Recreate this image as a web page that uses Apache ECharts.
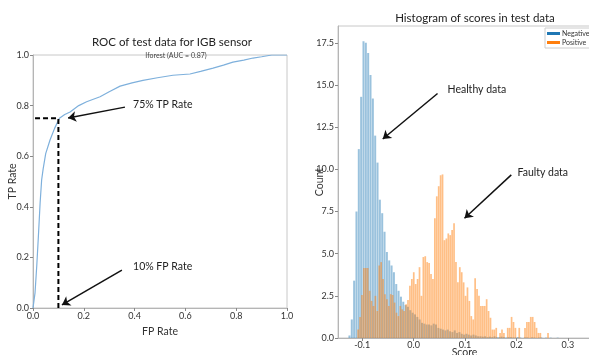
<!DOCTYPE html>
<html>
<head>
<meta charset="utf-8">
<script src="https://cdn.jsdelivr.net/npm/echarts@6/dist/echarts.min.js"></script>
<style>
  html, body { margin: 0; padding: 0; background: #fff; }
  #chart { width: 589px; height: 355px; }
</style>
</head>
<body>
<div id="chart"></div>
<script>
// ROC curve
const fpr = [0, 0.008, 0.015, 0.021, 0.028, 0.034, 0.04, 0.05, 0.067, 0.085, 0.104, 0.125, 0.146, 0.18, 0.211, 0.264, 0.3, 0.343, 0.39, 0.433, 0.49, 0.551, 0.618, 0.66, 0.709, 0.75, 0.787, 0.83, 0.866, 0.9, 0.94, 1.0]
const tpr = [0, 0.06, 0.17, 0.28, 0.415, 0.506, 0.55, 0.61, 0.664, 0.71, 0.75, 0.765, 0.775, 0.8, 0.815, 0.835, 0.855, 0.877, 0.89, 0.9, 0.91, 0.92, 0.925, 0.935, 0.948, 0.96, 0.972, 0.98, 0.988, 0.993, 1.0, 1.0]
const cutFpr = [0.008, 0.1, 0.1]
const cutTpr = [0.75, 0.75, 0]

// histogram bins
const negStart = -0.1273
const negWidth = 0.00455
const negCounts = [0.15, 1.1, 3.4, 7.5, 11.2, 14.3, 17.6, 17.5, 16.9, 15.6, 14.2, 12.0, 10.4, 8.2, 7.4, 6.3, 5.1, 4.6, 4.3, 3.9,
  3.2, 2.8, 2.45, 2.15, 1.95, 1.85, 1.65, 1.5, 1.4, 1.25, 1.1, 0.9, 0.85, 0.8, 0.8, 0.75, 0.85, 0.8, 0.6, 0.55,
  0.5, 0.45, 0.5, 0.4, 0.35, 0.45, 0.3, 0.35, 0.25, 0.2, 0.25, 0.2, 0.15, 0.2, 0.15, 0.1, 0.1, 0.08, 0.1, 0.05,
  0.08, 0.05, 0.1, 0.05, 0.05, 0.08, 0.05, 0.03, 0.05, 0.05, 0.03, 0.03, 0.05, 0.03, 0, 0.03, 0.03, 0, 0.03, 0.02,
  0, 0.02, 0.03, 0, 0.02, 0, 0.02, 0, 0, 0.02]
const posStart = -0.1097
const posWidth = 0.00373
const posCounts = [0.5, 1.25, 2.55, 4.15, 4.15, 4.15, 2.8, 2.2, 1.9, 2.5, 1.6, 4.3, 4.5, 3.5, 2.6, 2.3, 1.9, 2.6, 2.55, 2.1,
  1.5, 1.3, 1.9, 1.7, 1.6, 2.0, 2.25, 3.1, 3.5, 3.9, 3.2, 3.5, 4.2, 2.5, 4.8, 4.85, 4.5, 4.45, 3.8, 3.5,
  7.1, 8.4, 9.0, 9.65, 9.7, 5.8, 5.9, 6.2, 6.1, 6.4, 6.8, 4.5, 3.3, 4.2, 3.9, 3.3, 2.5, 3.0, 2.2, 1.3,
  1.1, 3.55, 2.9, 2.5, 1.9, 1.9, 1.9, 2.3, 1.6, 1.2, 0.5, 0.5, 0.6, 0, 0.3, 0.5, 0.3, 0, 0.6, 0.6,
  1.25, 0.95, 0.6, 0, 0.6, 0, 0, 0.6, 0.95, 0.95, 1.25, 1.25, 0.95, 0.6, 0.3, 0.3, 0, 0, 0, 0.3]
const scoreTicks = [-0.1, 0, 0.1, 0.2, 0.3]
const countTicks = [0, 2.5, 5, 7.5, 10, 12.5, 15, 17.5]

// annotations: arrow start, arrow end, text anchor
const tpNote = { text: '75% TP Rate', from: [0.362, 0.794], to: [0.138, 0.751], at: [0.394, 0.802] }
const fpNote = { text: '10% FP Rate', from: [0.35, 0.15], to: [0.114, 0.012], at: [0.394, 0.162] }
const healthyNote = { text: 'Healthy data', from: [0.0466, 14.5], to: [-0.06, 11.8], at: [0.066, 14.75] }
const faultyNote = { text: 'Faulty data', from: [0.19, 9.67], to: [0.099, 7.1], at: [0.202, 9.8] }

const font = 'Lato'
const arrowLines = notes => notes.map(n => [{ coord: n.from }, { coord: n.to }])
const noteTexts = notes => notes.map(n => ({ coord: n.at, name: n.text }))

const chart = echarts.init(document.getElementById('chart'))

const axisCommon = {
  axisLine: { onZero: false, lineStyle: { color: '#b5b5b5', width: 1 } },
  axisTick: { show: true, length: 3, lineStyle: { color: '#888' } },
  axisLabel: { color: '#333', fontSize: 9, fontFamily: font, margin: 4 },
  splitLine: { show: false },
  nameMoveOverlap: false,
  nameTextStyle: { color: '#333', fontSize: 10.5, fontFamily: font },
}

const markArrows = notes => ({
  silent: true,
  animation: false,
  symbol: ['none', 'arrow'],
  symbolSize: 8,
  label: { show: false },
  lineStyle: { color: '#111', width: 1.5, type: 'solid' },
  data: arrowLines(notes),
})
const markTexts = notes => ({
  silent: true,
  animation: false,
  symbol: 'circle',
  symbolSize: 0,
  label: {
    show: true, position: 'right', distance: 0, formatter: '{b}',
    color: '#222', fontSize: 10.5, fontFamily: font,
  },
  data: noteTexts(notes),
})

chart.setOption({
  animation: false,
  textStyle: { fontFamily: font },
  title: [
    { text: 'ROC of test data for IGB sensor', left: 167, top: 31, textAlign: 'center',
      textStyle: { fontSize: 11.5, fontWeight: 'normal', color: '#222', fontFamily: font } },
    { text: 'Iforest (AUC = 0.87)', left: 171, top: 47, textAlign: 'center',
      textStyle: { fontSize: 7, fontWeight: 'normal', color: '#444', fontFamily: font } },
    { text: 'Histogram of scores in test data', left: 470, top: 7, textAlign: 'center',
      textStyle: { fontSize: 11.5, fontWeight: 'normal', color: '#222', fontFamily: font } },
  ],
  legend: {
    data: [
      { name: 'Negative', itemStyle: { color: '#1f77b4', opacity: 1 } },
      { name: 'Positive', itemStyle: { color: '#ff7f0e', opacity: 1 } },
    ],
    orient: 'vertical',
    left: 545, top: 28,
    icon: 'rect',
    itemWidth: 13, itemHeight: 3, itemGap: 2,
    padding: [2, 40, 2, 2],
    borderColor: '#ccc', borderWidth: 1,
    textStyle: { fontSize: 7, color: '#333', fontFamily: font, padding: [0, 0, 0, -3] },
  },
  grid: [
    { left: 33, right: 302, top: 55, bottom: 47, show: true, borderColor: '#c8c8c8', borderWidth: 1,
      containLabel: false, outerBoundsMode: 'none' },
    { left: 338, right: -2, top: 26, bottom: 17, show: true, borderColor: '#c8c8c8', borderWidth: 1,
      containLabel: false, outerBoundsMode: 'none' },
  ],
  xAxis: [
    { ...axisCommon, gridIndex: 0, type: 'value', min: 0, max: 1, interval: 0.2,
      name: 'FP Rate', nameLocation: 'middle', nameGap: 18,
      axisLabel: { ...axisCommon.axisLabel, formatter: v => v.toFixed(1) } },
    { ...axisCommon, gridIndex: 1, type: 'value', min: -0.147, max: 0.345,
      name: 'Score', nameLocation: 'middle', nameGap: 9.5,
      axisTick: { ...axisCommon.axisTick, customValues: scoreTicks },
      axisLabel: { ...axisCommon.axisLabel, margin: 3, customValues: scoreTicks, formatter: v => v.toFixed(1) } },
  ],
  yAxis: [
    { ...axisCommon, gridIndex: 0, type: 'value', min: 0, max: 1, interval: 0.2,
      name: 'TP Rate', nameLocation: 'middle', nameGap: 14.5,
      axisLabel: { ...axisCommon.axisLabel, formatter: v => v.toFixed(1) } },
    { ...axisCommon, gridIndex: 1, type: 'value', min: 0, max: 18.5,
      name: 'Count', nameLocation: 'middle', nameGap: 13,
      axisTick: { ...axisCommon.axisTick, customValues: countTicks },
      axisLabel: { ...axisCommon.axisLabel, customValues: countTicks, formatter: v => v.toFixed(1) } },
  ],
  series: [
    {
      name: 'ROC', type: 'line', xAxisIndex: 0, yAxisIndex: 0,
      data: fpr.map((f, i) => [f, tpr[i]]),
      showSymbol: false,
      lineStyle: { color: '#7eb0dc', width: 1.2 },
      markLine: markArrows([tpNote, fpNote]),
      markPoint: markTexts([tpNote, fpNote]),
    },
    {
      name: 'cut', type: 'line', xAxisIndex: 0, yAxisIndex: 0,
      data: cutFpr.map((f, i) => [f, cutTpr[i]]),
      showSymbol: false,
      lineStyle: { color: '#000', width: 2, type: [5, 3] },
    },
    {
      name: 'Negative', type: 'bar', xAxisIndex: 1, yAxisIndex: 1,
      data: negCounts.map((c, i) => [negStart + negWidth * (i + 0.5), c]),
      barWidth: 2, barGap: '-100%',
      itemStyle: { color: '#1f77b4', opacity: 0.45 },
    },
    {
      name: 'Positive', type: 'bar', xAxisIndex: 1, yAxisIndex: 1,
      data: posCounts.map((c, i) => [posStart + posWidth * (i + 0.5), c]),
      barWidth: 1.7, barGap: '-100%',
      itemStyle: { color: '#ff7f0e', opacity: 0.5 },
      markLine: markArrows([healthyNote, faultyNote]),
      markPoint: markTexts([healthyNote, faultyNote]),
    },
  ],
})
</script>
</body>
</html>
